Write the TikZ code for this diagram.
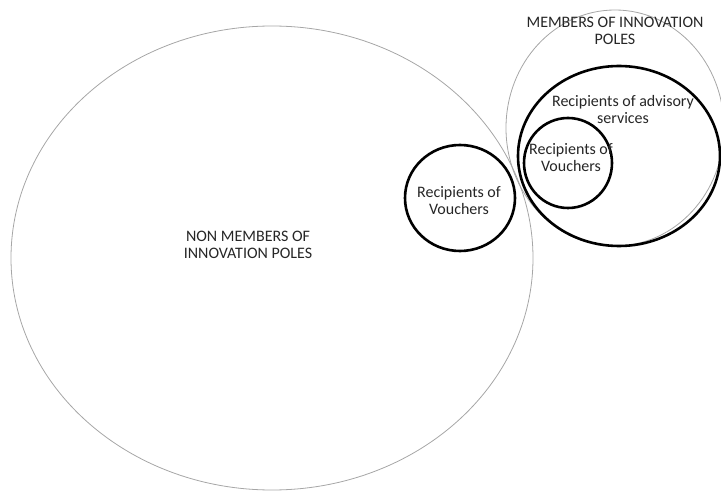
\documentclass[tikz,border=0pt]{standalone}
\usepackage{fontspec}
\setmainfont{Carlito}

\tikzset{
	group/.style = {draw = gray!70, line width = 0.8pt},
	subgroup/.style = {draw = black, line width = 2.6pt},
	grouplabel/.style = {align = center, inner sep = 0pt, font = \fontsize{16}{17}\selectfont, text = black!85}
}

\begin{document}
\begin{tikzpicture}[x = 1pt, y = -1pt]

	\useasboundingbox (0, 0) rectangle (721, 492);

	% Non members
	
	\draw [group] (272, 258) ellipse [x radius = 261, y radius = 232];
	\node [grouplabel] (nonmembers) at (248, 245) {NON MEMBERS OF\\INNOVATION POLES};
	
	% Members
	
	\draw [group] (615, 128) ellipse [x radius = 109, y radius = 118];
	\node [grouplabel] (members) at (615, 31) {MEMBERS OF INNOVATION\\POLES};
	
	% Advisory services
	
	\draw [subgroup] (619, 156) ellipse [x radius = 101, y radius = 90];
	\node [grouplabel] (advisory) at (623, 110) {Recipients of advisory\\services};
	
	% Vouchers
	
	\draw [subgroup] (460, 198) ellipse [x radius = 55, y radius = 53];
	\node [grouplabel] (vouchersout) at (459, 201) {Recipients of\\Vouchers};
	
	\draw [subgroup] (568, 163) ellipse [x radius = 44, y radius = 45];
	\node [grouplabel] (vouchersin) at (571, 158) {Recipients of\\Vouchers};

\end{tikzpicture}
\end{document}
